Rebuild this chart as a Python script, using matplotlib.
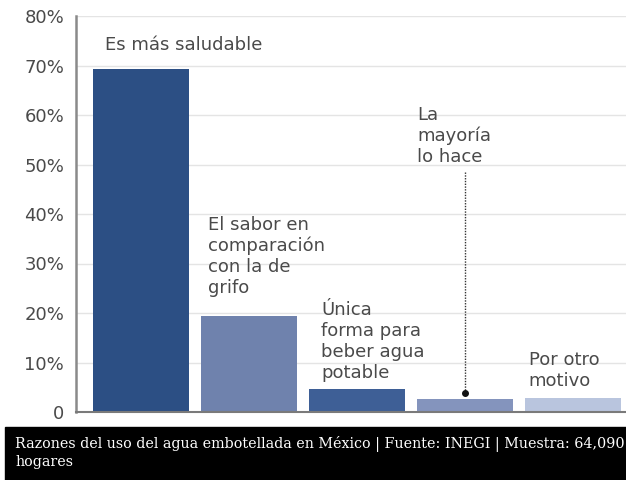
import matplotlib
matplotlib.use("Agg")
import matplotlib.pyplot as plt
from matplotlib.patches import Rectangle

# data
reasons = ["Es más saludable",
           "El sabor en\ncomparación\ncon la de\ngrifo",
           "Única\nforma para\nbeber agua\npotable",
           "La\nmayoría\nlo hace",
           "Por otro\nmotivo"]
values = [69.3, 19.3, 4.6, 2.7, 2.8]
colors = ["#2c4f84", "#6f82ad", "#3e5f96", "#8494bd", "#b9c5de"]
yticks = [0, 10, 20, 30, 40, 50, 60, 70, 80]
yticklabels = ["0", "10%", "20%", "30%", "40%", "50%", "60%", "70%", "80%"]
caption = "Razones del uso del agua embotellada en México | Fuente: INEGI | Muestra: 64,090\nhogares"

text_color = "#4a4a4a"

fig = plt.figure(figsize=(6.26, 4.8), dpi=100)
ax = fig.add_axes([76 / 626, 68 / 480, 550 / 626, 396 / 480])

x = list(range(len(values)))
ax.bar(x, values, width=0.89, color=colors, zorder=3)

ax.set_xlim(-0.6, 4.49)
ax.set_ylim(0, 80)
ax.set_yticks(yticks)
ax.set_yticklabels(yticklabels, fontsize=13, color=text_color)
ax.set_xticks([])
ax.tick_params(axis="y", length=0, pad=8.5)
ax.grid(axis="y", color="#e4e4e4", linewidth=1, zorder=0)

for s in ["top", "right"]:
    ax.spines[s].set_visible(False)
ax.spines["left"].set_color("#8a8a8a")
ax.spines["left"].set_linewidth(1.8)
ax.spines["bottom"].set_color("#7a7a7a")
ax.spines["bottom"].set_linewidth(1.5)
ax.spines["bottom"].set_zorder(4)

# labels of each bar
lab_kw = dict(fontsize=13, color=text_color, ha="left", va="top", linespacing=1.2)
ax.text(-0.33, 76.0, reasons[0], **lab_kw)
ax.text(0.62, 39.6, reasons[1], **lab_kw)
ax.text(1.67, 22.4, reasons[2], **lab_kw)
ax.text(2.56, 61.8, reasons[3], **lab_kw)
ax.text(3.59, 12.3, reasons[4], **lab_kw)

# dotted pointer to the small bar
ax.plot([3, 3], [48.5, 3.9], linestyle=(0, (1, 1)), color="#333333", linewidth=1, zorder=5)
ax.plot([3], [3.9], marker="o", markersize=4, color="#111111", zorder=5)

# caption band
fig.patches.append(Rectangle((5 / 626, 0), 1, 53 / 480, transform=fig.transFigure,
                             color="black", zorder=0))
fig.text(15 / 626, 44 / 480, caption, color="white", fontsize=10.3,
         family="DejaVu Serif", ha="left", va="top", linespacing=1.3)

fig.savefig("out.png", dpi=100)
